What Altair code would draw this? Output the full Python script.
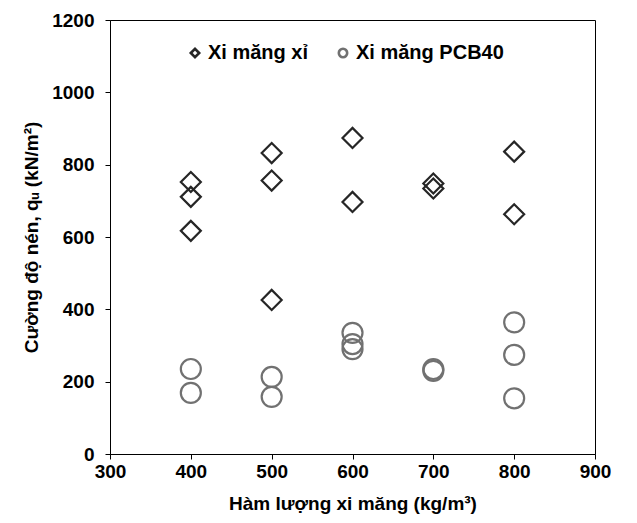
import altair as alt
import pandas as pd

series_names = ["Xi măng xỉ", "Xi măng PCB40"]

slag_x = [400, 400, 400, 500, 500, 500, 600, 600, 700, 700, 800, 800]
slag_y = [752, 711, 617, 832, 756, 426, 874, 697, 748, 734, 836, 663]

pcb_x = [400, 400, 500, 500, 600, 600, 600, 700, 700, 800, 800, 800]
pcb_y = [235, 169, 213, 158, 335, 304, 290, 235, 230, 364, 274, 154]

x_major = [300, 400, 500, 600, 700, 800, 900]
y_major = [0, 200, 400, 600, 800, 1000, 1200]

df = pd.DataFrame(
    {
        "cement": slag_x + pcb_x,
        "qu": slag_y + pcb_y,
        "series": [series_names[0]] * len(slag_x) + [series_names[1]] * len(pcb_x),
    }
)

FONT = "Liberation Sans"
W, H = 485, 434

legend = alt.Legend(
    orient="none",
    legendX=75,
    legendY=23,
    direction="horizontal",
    labelFont=FONT,
    labelFontSize=20,
    labelFontWeight="bold",
    labelColor="black",
    symbolSize=70,
    symbolStrokeWidth=2.6,
    labelOffset=3,
    columnPadding=24,
)

chart = (
    alt.Chart(df)
    .mark_point(filled=False, strokeWidth=2.2, size=400, opacity=1)
    .encode(
        x=alt.X(
            "cement:Q",
            scale=alt.Scale(domain=[300, 900], nice=False),
            axis=alt.Axis(values=x_major, labelExpr="datum.value", labelFlush=False),
            title="Hàm lượng xi măng (kg/m³)",
        ),
        y=alt.Y(
            "qu:Q",
            scale=alt.Scale(domain=[0, 1200], nice=False),
            axis=alt.Axis(values=y_major, labelExpr="datum.value", labelFlush=False),
            title="Cường độ nén, qᵤ (kN/m²)",
        ),
        shape=alt.Shape(
            "series:N",
            scale=alt.Scale(domain=series_names, range=["diamond", "circle"]),
            legend=legend,
            title="",
        ),
        stroke=alt.Stroke(
            "series:N",
            scale=alt.Scale(domain=series_names, range=["#262626", "#717171"]),
            legend=legend,
            title="",
        ),
    )
    .properties(
        width=W,
        height=H,
        autosize=alt.AutoSizeParams(type="none"),
        padding={"left": 110, "top": 20, "right": 42, "bottom": 69},
    )
    .configure_view(stroke="black", strokeWidth=1)
    .configure_axis(
        grid=False,
        domainColor="black",
        tickColor="black",
        tickSize=5,
        labelFont=FONT,
        labelFontSize=19,
        labelFontWeight="bold",
        labelColor="black",
        titleFont=FONT,
        titleFontSize=19,
        titleFontWeight="bold",
        titleColor="black",
    )
    .configure_axisX(labelPadding=3, titlePadding=13)
    .configure_axisY(labelPadding=11, titlePadding=10)
)

chart.save("out.html", embed_options={"renderer": "svg", "actions": False})
